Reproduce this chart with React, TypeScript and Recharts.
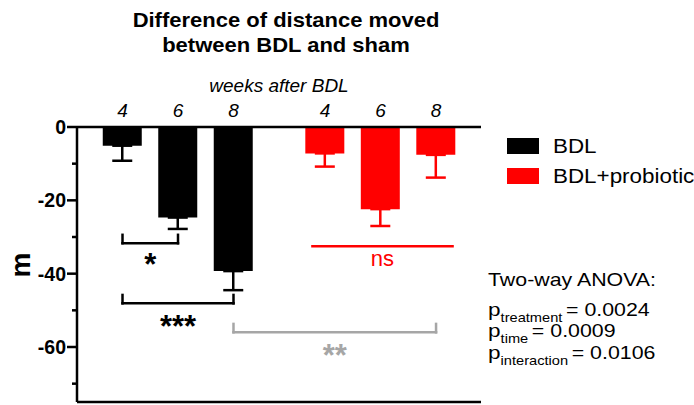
import React from 'react';
import { BarChart, Bar, XAxis, YAxis, ErrorBar, ReferenceLine, Legend } from 'recharts';

// weeks after BDL, one bar per week and group
const weeks = ['4', '6', '8'];
const bdlMean = [-5.1, -24.7, -39.3];
const bdlSem = [4.1, 3.1, 5.2];
const probioticMean = [-7.2, -22.4, -7.6];
const probioticSem = [3.6, 4.6, 6.2];
const yTicks = [0, -10, -20, -30, -40, -50, -60, -70];

// post-hoc comparisons: [group, weekIndex] ends, bracket level in m
const brackets = [
  { from: [0, 0], to: [0, 1], y: -31.7, label: '*', color: '#000', offset: 10 },
  { from: [0, 0], to: [0, 2], y: -48.1, label: '***', color: '#000', offset: 12 },
  { from: [0, 2], to: [1, 2], y: -56, label: '**', color: '#a6a6a6', offset: 12 },
];
const nsLine = { group: 1, y: -32.5, label: 'ns' };

const anova = [
  { sub: 'treatment', p: '0.0024' },
  { sub: 'time', p: '0.0009' },
  { sub: 'interaction', p: '0.0106' },
];

const FONT = "'Liberation Sans', Arial, Helvetica, sans-serif";
const RED = '#ff0000';
const GROUP_STEP = 1.65; // distance between last bar of a group and first bar of the next
const X_DOMAIN = [-0.82, 6.46];
const BRACKET_TICK = 2.3;

const slot = (group: number, i: number) => group * (weeks.length - 1 + GROUP_STEP) + i;

const rows = [
  ...weeks.map((w, i) => ({ x: slot(0, i), week: w, bdl: bdlMean[i], bdlErr: [bdlSem[i], 0] })),
  ...weeks.map((w, i) => ({
    x: slot(1, i),
    week: w,
    probiotic: probioticMean[i],
    probioticErr: [probioticSem[i], 0],
  })),
];

const weekAt = (v: number) => rows.find((r) => Math.abs(r.x - v) < 1e-6)?.week ?? '';

const axisLine = { stroke: '#000', strokeWidth: 2.5 };

const YTick = (props: any) => {
  const { x, y, payload } = props;
  const major = payload.value % 20 === 0;
  const len = major ? 10 : 5;
  return (
    <g>
      <line x1={x - len} y1={y} x2={x} y2={y} stroke="#000" strokeWidth={2.5} />
      {major && (
        <text
          x={x - len - 1}
          y={y}
          dy="0.36em"
          textAnchor="end"
          fontSize={19.5}
          fontWeight="bold"
          fill="#000"
        >
          {payload.value}
        </text>
      )}
    </g>
  );
};

const renderLegend = (props: any) => (
  <div>
    {(props.payload ?? []).map((entry: any) => (
      <div key={entry.value} style={{ display: 'flex', alignItems: 'center', height: 30 }}>
        <span style={{ width: 32, height: 16, background: entry.color, marginRight: 14 }} />
        <span
          style={{
            fontSize: 20,
            lineHeight: '23px',
            display: 'inline-block',
            transform: 'scaleX(1.12)',
            transformOrigin: 'left center',
            color: '#000',
            whiteSpace: 'nowrap',
          }}
        >
          {entry.value}
        </span>
      </div>
    ))}
  </div>
);

export default function App() {
  return (
    <div
      style={{
        position: 'absolute',
        left: 0,
        top: 0,
        width: 694,
        height: 405,
        background: '#fff',
        fontFamily: FONT,
      }}
    >
      <BarChart width={694} height={405} data={rows} margin={{ top: 126, right: 213, bottom: 2, left: 0 }}>
        <XAxis
          xAxisId="top"
          orientation="top"
          type="number"
          dataKey="x"
          domain={X_DOMAIN}
          allowDataOverflow
          ticks={rows.map((r) => r.x)}
          interval={0}
          tickFormatter={weekAt}
          height={1}
          tickLine={false}
          tickSize={6}
          tickMargin={4}
          axisLine={axisLine}
          tick={{ fill: '#000', fontSize: 19, fontStyle: 'italic' }}
          label={{
            value: 'weeks after BDL',
            position: 'top',
            offset: 34.5,
            fill: '#000',
            fontSize: 19,
            fontStyle: 'italic',
          }}
        />
        <XAxis
          xAxisId="bottom"
          orientation="bottom"
          type="number"
          dataKey="x"
          domain={X_DOMAIN}
          allowDataOverflow
          height={1}
          tick={false}
          tickLine={false}
          axisLine={axisLine}
        />
        <YAxis
          width={77}
          domain={[-75, 0]}
          allowDataOverflow
          ticks={yTicks}
          interval={0}
          tickLine={false}
          tickSize={0}
          tickMargin={0}
          axisLine={axisLine}
          tick={YTick}
        />
        <Legend
          layout="vertical"
          align="center"
          verticalAlign="middle"
          wrapperStyle={{ left: 507, top: 131, width: 190 }}
          content={renderLegend}
        />
        <Bar xAxisId="top" dataKey="bdl" name="BDL" fill="#000" barSize={39} isAnimationActive={false}>
          <ErrorBar
            dataKey="bdlErr"
            direction="y"
            width={10}
            stroke="#000"
            strokeWidth={2.5}
            isAnimationActive={false}
          />
        </Bar>
        <Bar
          xAxisId="bottom"
          dataKey="probiotic"
          name="BDL+probiotic"
          fill={RED}
          barSize={39}
          isAnimationActive={false}
        >
          <ErrorBar
            dataKey="probioticErr"
            direction="y"
            width={10}
            stroke={RED}
            strokeWidth={2.5}
            isAnimationActive={false}
          />
        </Bar>

        {brackets.map((b, k) => {
          const x1 = slot(b.from[0], b.from[1]);
          const x2 = slot(b.to[0], b.to[1]);
          const top = b.y + BRACKET_TICK;
          const line = { xAxisId: 'top', stroke: b.color, strokeWidth: 2.5, strokeLinecap: 'square' as const };
          return (
            <React.Fragment key={k}>
              <ReferenceLine {...line} segment={[{ x: x1, y: top }, { x: x1, y: b.y }]} />
              <ReferenceLine {...line} segment={[{ x: x2, y: top }, { x: x2, y: b.y }]} />
              <ReferenceLine
                {...line}
                segment={[{ x: x1, y: b.y }, { x: x2, y: b.y }]}
                label={{
                  value: b.label,
                  position: 'bottom',
                  offset: b.offset,
                  fill: b.color,
                  fontSize: 31,
                  fontWeight: 'bold',
                }}
              />
            </React.Fragment>
          );
        })}
        <ReferenceLine
          xAxisId="top"
          stroke={RED}
          strokeWidth={2.5}
          segment={[
            { x: slot(nsLine.group, 0) - 0.25, y: nsLine.y },
            { x: slot(nsLine.group, weeks.length - 1) + 0.32, y: nsLine.y },
          ]}
          label={{ value: nsLine.label, position: 'bottom', offset: 4.5, fill: RED, fontSize: 22 }}
        />
      </BarChart>

      <svg
        width={694}
        height={405}
        style={{ position: 'absolute', left: 0, top: 0, pointerEvents: 'none' }}
      >
        <g transform="translate(286 0) scale(1.1 1)" fontWeight="bold" fontSize={20} textAnchor="middle">
          <text x={0} y={27}>Difference of distance moved</text>
          <text x={0} y={52}>between BDL and sham</text>
        </g>
        <text x={30} y={265} transform="rotate(-90 30 265)" textAnchor="middle" fontSize={28} fontWeight="bold">
          m
        </text>
        <g transform="translate(488 0) scale(1.22 1)" fontSize={17.5}>
          <text x={0} y={286}>Two-way ANOVA:</text>
          {anova.map((a, i) => {
            const base = 316 + i * 21.5;
            return (
              <text key={a.sub} x={0} y={base}>
                <tspan fontSize={18.5}>p</tspan>
                <tspan fontSize={12} y={base + 6}>
                  {a.sub}
                </tspan>
                <tspan y={base} dx={3}>{`= ${a.p}`}</tspan>
              </text>
            );
          })}
        </g>
      </svg>
    </div>
  );
}
